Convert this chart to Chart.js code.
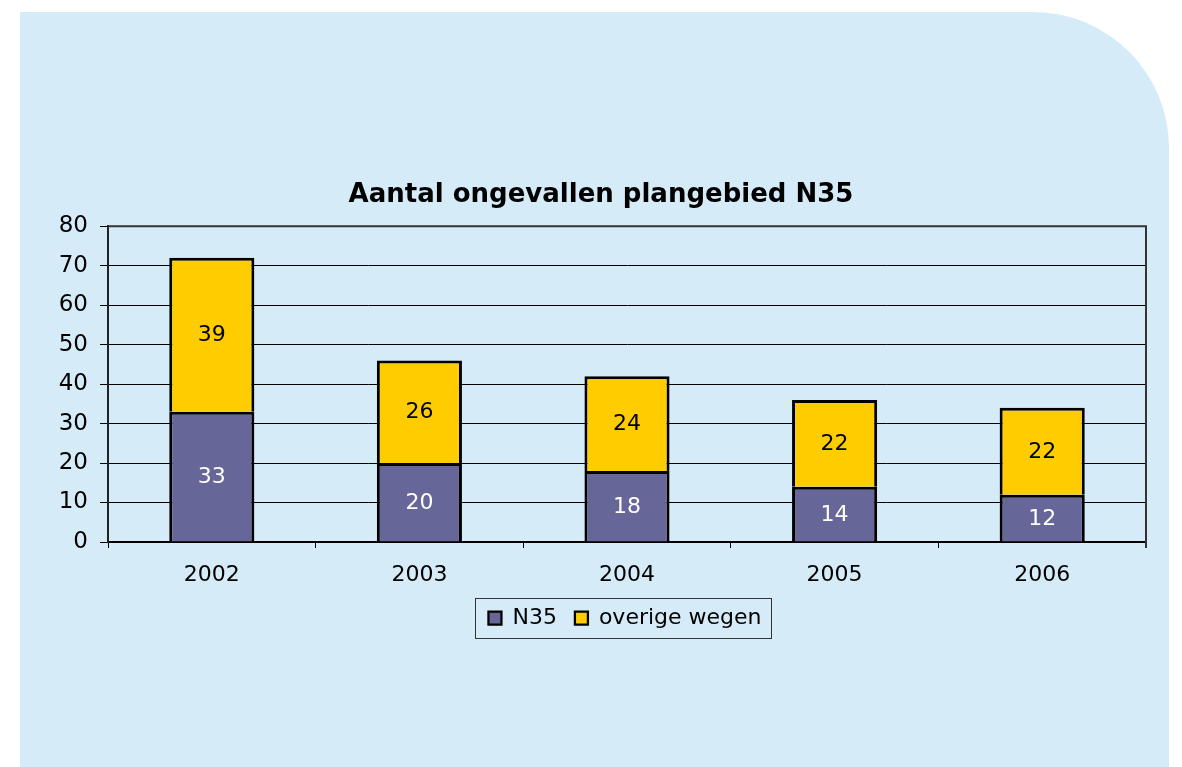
<!DOCTYPE html>
<html>
<head>
<meta charset="utf-8">
<script src="https://cdn.jsdelivr.net/npm/chart.js@4.4.1/dist/chart.umd.min.js"></script>
<style>
  html, body { margin: 0; padding: 0; background: #ffffff; overflow: hidden; }
  #panel {
    position: absolute; left: 20px; top: 12px; width: 1149px; height: 800px;
    background: #d5ebf8; border-top-right-radius: 136px;
  }
  #wrap { position: absolute; left: 0; top: 0; width: 1182px; height: 767px; }
</style>
</head>
<body>
<div id="panel"></div>
<div id="wrap"><canvas id="chart" width="1182" height="767"></canvas></div>
<script>
  // values
  const years = ['2002', '2003', '2004', '2005', '2006'];
  const n35 = [33, 20, 18, 14, 12];
  const overigeWegen = [39, 26, 24, 22, 22];
  const yTicks = [0, 10, 20, 30, 40, 50, 60, 70, 80];

  const FONT = 'DejaVu Sans, Verdana, sans-serif';
  const barBorder = { top: 3, right: 3, bottom: 0, left: 3 };

  // numbers in the middle of every bar piece
  const valueLabels = {
    id: 'valueLabels',
    afterDatasetsDraw(chart) {
      const ctx = chart.ctx;
      ctx.save();
      ctx.font = '22px ' + FONT;
      ctx.textAlign = 'center';
      ctx.textBaseline = 'middle';
      chart.data.datasets.forEach((ds, i) => {
        const meta = chart.getDatasetMeta(i);
        ctx.fillStyle = i === 0 ? '#ffffff' : '#000000';
        meta.data.forEach((bar, j) => {
          ctx.fillText(String(ds.data[j]), bar.x, (bar.y + bar.base) / 2 + 1);
        });
      });
      ctx.restore();
    }
  };

  // top and right edge of the plot area, box round the legend
  const frames = {
    id: 'frames',
    afterLayout(chart) {
      // legend sits a little right of the middle in the original
      chart.legend.left += 24;
      chart.legend.right += 24;
    },
    beforeDatasetsDraw(chart) {
      const { ctx, chartArea: a } = chart;
      ctx.save();
      ctx.strokeStyle = '#333333';
      ctx.lineWidth = 2;
      ctx.beginPath();
      ctx.moveTo(a.left, a.top);
      ctx.lineTo(a.right, a.top);
      ctx.lineTo(a.right, a.bottom + 6);
      ctx.stroke();
      ctx.restore();
    },
    afterDraw(chart) {
      const boxes = chart.legend.legendHitBoxes;
      if (!boxes || !boxes.length) return;
      const left = Math.min(...boxes.map(b => b.left)) - 13;
      const right = Math.max(...boxes.map(b => b.left + b.width)) + 10;
      const top = Math.min(...boxes.map(b => b.top)) - 9;
      const bottom = Math.max(...boxes.map(b => b.top + b.height)) + 9;
      const ctx = chart.ctx;
      ctx.save();
      ctx.strokeStyle = '#333333';
      ctx.lineWidth = 1;
      ctx.strokeRect(Math.round(left) + 0.5, Math.round(top) + 0.5, Math.round(right - left), Math.round(bottom - top));
      ctx.restore();
    }
  };

  new Chart(document.getElementById('chart').getContext('2d'), {
    type: 'bar',
    data: {
      labels: years,
      datasets: [
        {
          label: 'N35',
          data: n35,
          backgroundColor: '#666699',
          borderColor: '#000000',
          borderWidth: barBorder,
          borderSkipped: false,
          inflateAmount: 0,
          categoryPercentage: 1,
          barPercentage: 0.41
        },
        {
          label: 'overige wegen',
          data: overigeWegen,
          backgroundColor: '#ffcc00',
          borderColor: '#000000',
          borderWidth: barBorder,
          borderSkipped: false,
          inflateAmount: 0,
          categoryPercentage: 1,
          barPercentage: 0.41
        }
      ]
    },
    options: {
      responsive: false,
      animation: false,
      events: [],
      layout: { padding: { left: 56, right: 36, top: 0, bottom: 128 } },
      scales: {
        x: {
          stacked: true,
          afterFit: (scale) => { scale.height = 47; },
          grid: {
            offset: true,
            drawOnChartArea: false,
            color: '#000000',
            lineWidth: 1,
            tickLength: 6
          },
          border: { color: '#000000', width: 2 },
          ticks: { color: '#000000', font: { family: FONT, size: 22 }, padding: 14 }
        },
        y: {
          stacked: true,
          min: 0,
          max: 80,
          afterFit: (scale) => { scale.width = 52; },
          afterBuildTicks: (scale) => { scale.ticks = yTicks.map(v => ({ value: v })); },
          grid: { color: '#000000', lineWidth: 1, tickLength: 8 },
          border: { color: '#222222', width: 2 },
          ticks: { color: '#000000', font: { family: FONT, size: 23 }, padding: 12 }
        }
      },
      plugins: {
        title: {
          display: true,
          text: 'Aantal ongevallen plangebied N35',
          color: '#000000',
          font: { family: FONT, size: 26, weight: 'bold' },
          padding: { top: 180, bottom: 15 }
        },
        legend: {
          position: 'bottom',
          labels: {
            color: '#000000',
            font: { family: FONT, size: 22 },
            boxWidth: 13,
            boxHeight: 13,
            padding: 18
          }
        },
        tooltip: { enabled: false }
      }
    },
    plugins: [valueLabels, frames]
  });
</script>
</body>
</html>
